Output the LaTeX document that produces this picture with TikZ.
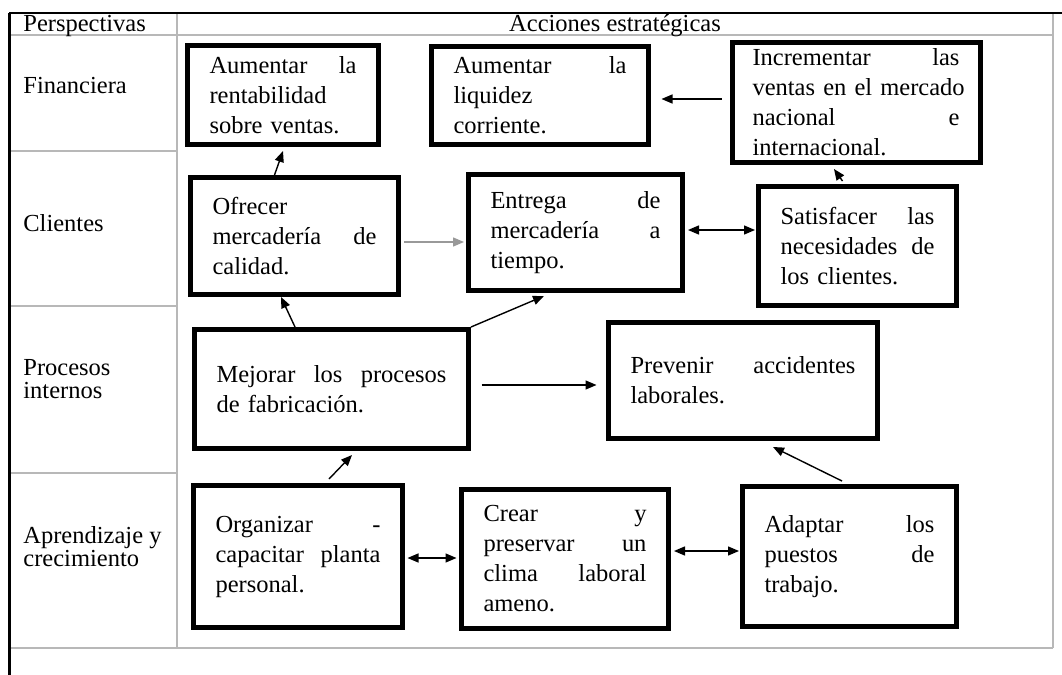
\documentclass[tikz,border=0pt]{standalone}
\usepackage{fontspec}
\setmainfont{Liberation Serif}
\usetikzlibrary{arrows.meta,calc}

\begin{document}
\begin{tikzpicture}[x=0.5pt,y=-0.5pt,
    every node/.style={font=\fontsize{12.25pt}{15pt}\selectfont},
    accion/.style={draw, line width=2.5pt, inner sep=0pt, align=left},
    persp/.style={anchor=base west, inner sep=0pt, align=left, font=\fontsize{12.25pt}{11.5pt}\selectfont},
    rejilla/.style={draw=black!28, line width=0.75pt},
    flecha/.style={-{Triangle[length=5.5pt,width=4.5pt]}, line width=0.7pt},
    doble/.style={{Triangle[length=5.5pt,width=4.5pt]}-{Triangle[length=5.5pt,width=4.5pt]}, line width=0.7pt},
    gris/.style={flecha, draw=black!40, fill=black!40}]
                \useasboundingbox (0,0) rectangle (1062,675);

                \draw[rejilla] (9,35) -- (1053,35);
                \draw[rejilla] (177,13) -- (177,648);
                \draw[rejilla] (1053,13) -- (1053,648);
                \draw[rejilla] (9,648) -- (1053,648);
                \draw[rejilla] (9,151) -- (177,151);
                \draw[rejilla] (9,306) -- (177,306);
                \draw[rejilla] (9,473) -- (177,473);
                \draw[line width=1pt] (9,13) -- (1062,13);
                \draw[line width=1.5pt] (9,12.5) -- (9,675);

                \node[persp] (tpers) at (23,31.5) {Perspectivas};
                \node[anchor=base, inner sep=0pt] (tacc) at (615,31.5) {Acciones estratégicas};
                \node[persp] (tfin) at (23,93) {Financiera};
                \node[persp] (tcli) at (23,231.5) {Clientes};
                \node[persp] (tpro) at (23,398) {Procesos\\internos};
                \node[persp] (tapr) at (23,566) {Aprendizaje y\\crecimiento};

                \node[accion, minimum width=95.5pt, minimum height=49.5pt, text width=73.5pt] (rent) at (283,95)
                    {Aumentar\hfill la\\rentabilidad\\sobre ventas.};
                \node[accion, minimum width=108.5pt, minimum height=49pt, text width=86.5pt] (liqu) at (540,95.5)
                    {Aumentar\hfill la\\liquidez\\corriente.};
                \node[accion, minimum width=124pt, minimum height=60pt, text width=103.5pt] (incr) at (856,102.5)
                    {Incrementar\hfill las\\\mbox{ventas en el mercado}\\nacional\hfill e\\internacional.};
                \node[accion, minimum width=104pt, minimum height=58.5pt, text width=82pt] (ofre) at (294.5,236)
                    {Ofrecer\\mercadería\hfill de\\calidad.};
                \node[accion, minimum width=107pt, minimum height=58pt, text width=85pt] (entr) at (575.5,232.5)
                    {Entrega\hfill de\\mercadería\hfill a\\tiempo.};
                \node[accion, minimum width=99pt, minimum height=59.5pt, text width=77pt] (sati) at (857.5,246)
                    {Satisfacer\hfill las\\necesidades\hfill de\\los clientes.};
                \node[accion, minimum width=137pt, minimum height=59.5pt, text width=115pt] (mejo) at (331.5,389)
                    {Mejorar\hfill los\hfill procesos\\de fabricación.};
                \node[accion, minimum width=134.5pt, minimum height=58pt, text width=112.5pt] (prev) at (743,380.5)
                    {Prevenir\hfill accidentes\\laborales.};
                \node[accion, minimum width=104.5pt, minimum height=71pt, text width=82.5pt] (orga) at (298,556.5)
                    {Organizar\hfill -\\capacitar\hfill planta\\personal.};
                \node[accion, minimum width=103.5pt, minimum height=69.5pt, text width=81.5pt] (crea) at (565,559)
                    {Crear\hfill y\\preservar\hfill un\\clima\hfill laboral\\ameno.};
                \node[accion, minimum width=107pt, minimum height=70pt, text width=85pt] (adap) at (849.5,556.5)
                    {Adaptar\hfill los\\puestos\hfill de\\trabajo.};

                \draw[flecha] ($(ofre.north)+(-20,0)$) -- ($(rent.south)+(0,4)$);
                \draw[flecha] ($(incr.west)+(-8,-3.5)$) -- ($(liqu.east)+(10.5,3.5)$);
                \draw[flecha] ($(sati.north)+(-15,-3)$) -- ($(incr.south)+(-22,4)$);
                \draw[gris] ($(ofre.east)+(3,6)$) -- ($(entr.west)+(-2,9.5)$);
                \draw[doble] ($(entr.east)+(3,-2.5)$) -- ($(sati.west)+(-1,-16)$);
                \draw[flecha] ($(mejo.north)+(-36.5,0)$) -- ($(ofre.south)+(-13.5,0)$);
                \draw[flecha] (mejo.north east) -- ($(entr.south)+(-31.5,3)$);
                \draw[flecha] ($(mejo.east)+(10.5,-4)$) -- ($(prev.west)+(-9.5,4.5)$);
                \draw[flecha] ($(orga.north)+(31,-4)$) -- ($(mejo.south)+(20.5,4)$);
                \draw[doble] ($(orga.east)+(2.5,1.5)$) -- ($(crea.west)+(-2.5,-1)$);
                \draw[doble] ($(crea.east)+(3,-8)$) -- ($(adap.west)+(-1,-5.5)$);
                \draw[flecha] ($(adap.north)+(-7.5,-3)$) -- ($(prev.south)+(30,6)$);
            \end{tikzpicture}
\end{document}
